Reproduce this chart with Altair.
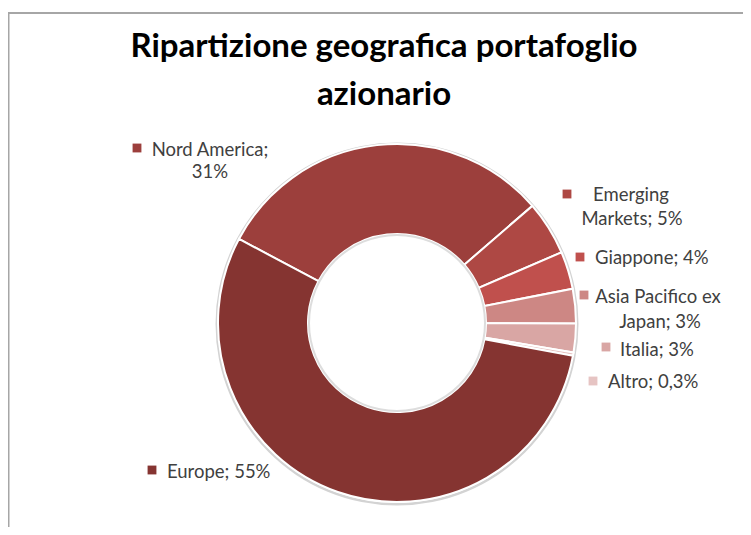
import math
import altair as alt
import pandas as pd

# ---------------- data ----------------
CATEGORIES = ["Nord America", "Emerging Markets", "Giappone",
              "Asia Pacifico ex Japan", "Italia", "Altro", "Europe"]
VALUES = [30.9, 4.9, 3.4, 3.1, 2.6, 0.3, 54.9]
PCT_LABELS = ["31%", "5%", "4%", "3%", "3%", "0,3%", "55%"]
COLORS = ["#9C3F3C", "#AE4844", "#C0504D", "#CD8784", "#D9A6A4", "#E6C4C3", "#853431"]
TITLE_LINES = ["Ripartizione geografica portafoglio", "azionario"]

# ---------------- layout (positions / styles) ----------------
W, H = 735, 519
CX, CY = 389, 315
R_OUT, R_IN = 179, 89
START = math.radians(298)
TEXT_COLOR = "#404040"
FONT = "Lato"
LABEL_SIZE = 18.5

# words on first line (None = single line), square centre, line anchors
LABEL_LAYOUT = {
    "Nord America":           dict(wrap=2, sq=(129, 140), lines=[(202, 142), (202, 164)]),
    "Emerging Markets":       dict(wrap=1, sq=(559, 186), lines=[(623, 187), (624, 211)]),
    "Giappone":               dict(wrap=None, sq=(572, 249), lines=[(587, 250)]),
    "Asia Pacifico ex Japan": dict(wrap=3, sq=(576, 287), lines=[(650, 289), (652, 314)]),
    "Italia":                 dict(wrap=None, sq=(598, 339), lines=[(612, 342)]),
    "Altro":                  dict(wrap=None, sq=(585, 373), lines=[(600, 374)]),
    "Europe":                 dict(wrap=None, sq=(144, 462), lines=[(159, 464)]),
}

df = pd.DataFrame({"cat": CATEGORIES, "value": VALUES, "ord": list(range(len(CATEGORIES)))})

color_scale = alt.Scale(domain=CATEGORIES, range=COLORS)

# label tables built from data + layout
sq_rows, multi_rows, single_rows = [], [], []
for cat, pct in zip(CATEGORIES, PCT_LABELS):
    lay = LABEL_LAYOUT[cat]
    full = f"{cat}; {pct}"
    sq_rows.append({"cat": cat, "px": lay["sq"][0], "py": lay["sq"][1]})
    if lay["wrap"] is None:
        x, y = lay["lines"][0]
        single_rows.append({"cat": cat, "txt": full, "px": x, "py": y})
    else:
        words = full.split(" ")
        parts = [" ".join(words[:lay["wrap"]]), " ".join(words[lay["wrap"]:])]
        for t, (x, y) in zip(parts, lay["lines"]):
            multi_rows.append({"cat": cat, "txt": t, "px": x, "py": y})

sq_df = pd.DataFrame(sq_rows)
single_df = pd.DataFrame(single_rows)
multi_df = pd.DataFrame(multi_rows)

one = pd.DataFrame({"a": [0]})

frame_v = alt.Chart(one).mark_rule(color="#A6A6A6", strokeWidth=2).encode(
    x=alt.value(0.5), y=alt.value(5), y2=alt.value(H))
frame_h = alt.Chart(one).mark_rule(color="#A6A6A6", strokeWidth=2).encode(
    x=alt.value(0), x2=alt.value(W), y=alt.value(5))

outer_shadow = alt.Chart(one).mark_arc(
    theta=0, theta2=2 * math.pi, radius=R_OUT + 2.5, radius2=R_OUT, color="#D3D3D3"
).encode(x=alt.value(CX), y=alt.value(CY + 1))

inner_shadow = alt.Chart(one).mark_arc(
    theta=0, theta2=2 * math.pi, radius=R_IN, radius2=R_IN - 2, color="#DDDDDD"
).encode(x=alt.value(CX), y=alt.value(CY))

donut = alt.Chart(df).mark_arc(
    radius=R_OUT, radius2=R_IN, stroke="white", strokeWidth=2
).encode(
    theta=alt.Theta("value:Q", stack=True,
                    scale=alt.Scale(domain=[0, sum(VALUES)], range=[START, START + 2 * math.pi],
                                    zero=True, nice=False)),
    color=alt.Color("cat:N", scale=color_scale, legend=None),
    order=alt.Order("ord:Q"),
    x=alt.value(CX), y=alt.value(CY),
)

squares = alt.Chart(sq_df).mark_square(size=78, opacity=1).encode(
    x=alt.X("px:Q", scale=None), y=alt.Y("py:Q", scale=None),
    color=alt.Color("cat:N", scale=color_scale, legend=None),
)

single_txt = alt.Chart(single_df).mark_text(
    align="left", baseline="middle", font=FONT, fontSize=LABEL_SIZE, color=TEXT_COLOR
).encode(x=alt.X("px:Q", scale=None), y=alt.Y("py:Q", scale=None), text="txt:N")

multi_txt = alt.Chart(multi_df).mark_text(
    align="center", baseline="middle", font=FONT, fontSize=LABEL_SIZE, color=TEXT_COLOR
).encode(x=alt.X("px:Q", scale=None), y=alt.Y("py:Q", scale=None), text="txt:N")

title_df = pd.DataFrame({"txt": TITLE_LINES, "line": [0, 1]})
title = alt.Chart(title_df).mark_text(
    align="center", baseline="alphabetic", font=FONT, fontWeight="bold",
    fontSize=33, color="#000000"
).encode(
    x=alt.value(376),
    y=alt.Y("line:Q", scale=alt.Scale(domain=[0, 1], range=[49, 97], zero=False, nice=False),
            axis=None),
    text="txt:N",
)

chart = alt.layer(
    frame_v, frame_h, outer_shadow, donut, inner_shadow, squares, single_txt, multi_txt, title
).properties(
    width=W, height=H, autosize=alt.AutoSizeParams(type="none"), padding=0
).configure_view(stroke=None)

chart.save("out.html", embed_options={"renderer": "svg", "actions": False})
